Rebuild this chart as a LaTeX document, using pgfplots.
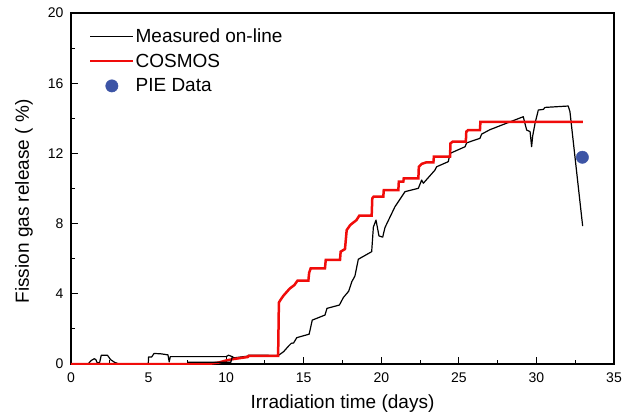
\documentclass[border=0pt]{standalone}
\usepackage{fontspec}
\setmainfont{Liberation Sans}
\usepackage{pgfplots}
\pgfplotsset{compat=1.18}
\definecolor{cosmosred}{RGB}{240,12,10}
\definecolor{pieblue}{RGB}{60,84,165}
\begin{document}
\begin{tikzpicture}
\begin{axis}[
 width=543pt, height=351pt, scale only axis,
 xmin=0, xmax=35, ymin=0, ymax=20,
 xtick={0,5,...,35}, ytick={0,4,...,20},
 minor x tick num=1, minor y tick num=1,
 tick align=inside, xtick pos=left, ytick pos=left,
 major tick length=7pt, minor tick length=4pt,
 axis line style={line width=1.2pt},
 every tick/.style={black, line width=1pt},
 /pgf/number format/assume math mode=true,
 ticklabel style={font=\fontsize{14}{16}\selectfont},
 xticklabel style={yshift=-5pt},
 yticklabel style={xshift=-4pt},
 xlabel={Irradiation time (days)},
 ylabel={Fission gas release ( \%)},
 label style={font=\fontsize{19}{22}\selectfont},
 xlabel style={at={(axis description cs:0.5,0)}, anchor=center, yshift=-40pt},
 ylabel style={at={(axis description cs:0,0.463)}, anchor=center, yshift=47pt},
 legend style={at={(axis description cs:0.033,0.959)}, anchor=north west, draw=none, fill=none,
   font=\fontsize{19}{22}\selectfont, row sep=8pt, inner sep=0pt, nodes={inner sep=1pt}},
 legend cell align=left,
 legend image code/.code={\draw[mark repeat=2,mark phase=2,#1] plot coordinates {(0pt,0pt) (21.5pt,0pt) (43pt,0pt)};},
 /tikz/every even column/.append style={column sep=9pt},
]
\addplot[black, line width=1.2pt, line join=round] coordinates {
(0,0) (1.1,0) (1.3,0.2) (1.5,0.3) (1.6,0.25) (1.7,0.05) (1.85,0.1) (1.95,0.5) (2.35,0.5) (2.55,0.25) (2.8,0.1) (3.1,0)
(4.98,0) (5.0,0.4) (5.2,0.4) (5.35,0.6) (5.8,0.58) (6.25,0.52) (6.33,0.12) (6.4,0.42) (10.0,0.42) (10.15,0.5) (10.4,0.42)
(10.5,0.35) (11.4,0.45) (11.45,0.5) (12.4,0.5) (13.35,0.48) (13.7,0.7) (14.0,1.0) (14.2,1.18) (14.35,1.2) (14.55,1.5)
(15.35,1.7) (15.55,2.5) (16.37,2.79) (16.5,3.17) (17.3,3.36) (17.55,3.78) (17.9,4.15) (18.1,4.69) (18.3,5.01) (18.52,5.97)
(19.38,6.4) (19.49,7.8) (19.66,8.2) (19.85,7.3) (20.09,7.23) (20.24,7.78) (20.88,8.96) (21.53,9.82) (22.39,10.01)
(22.6,10.48) (22.71,10.3) (22.93,10.52) (23.46,11.05) (23.57,11.24) (24.32,11.53) (24.43,12.0) (25.4,12.38) (25.5,12.6)
(26.36,12.86) (26.47,13.1) (27.0,13.35) (29.15,14.09) (29.26,13.71) (29.37,13.33) (29.59,13.24) (29.69,12.38) (29.76,13.0)
(29.91,13.71) (30.12,14.47) (30.45,14.51) (30.55,14.62) (32.05,14.7) (32.16,14.38) (32.98,7.86)
};
\addlegendentry{Measured on-line}
\addplot[cosmosred, line width=2.5pt, line join=miter] coordinates {
(0,0) (7.5,0) (9.0,0.02) (9.5,0.08) (10.0,0.2) (10.45,0.28) (11.0,0.35) (11.4,0.4) (11.45,0.47) (13.35,0.47)
(13.4,3.5) (13.5,3.65) (13.7,3.9) (14.1,4.3) (14.4,4.5) (14.6,4.75) (15.3,4.75) (15.35,5.2) (15.45,5.45) (16.37,5.45)
(16.42,5.93) (17.34,5.93) (17.38,6.4) (17.66,6.55) (17.77,7.63) (18.0,7.92) (18.4,8.2) (18.58,8.45) (19.38,8.45)
(19.42,9.44) (19.5,9.53) (20.13,9.53) (20.16,9.91) (21.1,9.91) (21.13,10.39) (21.42,10.39) (21.45,10.58) (22.39,10.58)
(22.42,11.24) (22.6,11.4) (22.9,11.49) (23.36,11.49) (23.39,11.81) (24.43,11.81) (24.46,12.57) (24.6,12.67) (25.45,12.67)
(25.48,13.24) (25.6,13.33) (26.36,13.33) (26.39,13.8) (33.0,13.8)
};
\addlegendentry{COSMOS}
\addplot[only marks, mark=*, mark size=6.2pt, color=pieblue] coordinates {(32.96,11.78)};
\addlegendentry{PIE Data}
\addplot[black, line width=1.2pt, forget plot] coordinates {(7.5,0.1) (10.3,0.1) (10.4,0.42)};
\end{axis}
\pgfresetboundingbox
\useasboundingbox ([xshift=-71pt,yshift=-51pt]current axis.south west) rectangle ([xshift=20pt,yshift=13pt]current axis.north east);
\end{tikzpicture}
\end{document}
